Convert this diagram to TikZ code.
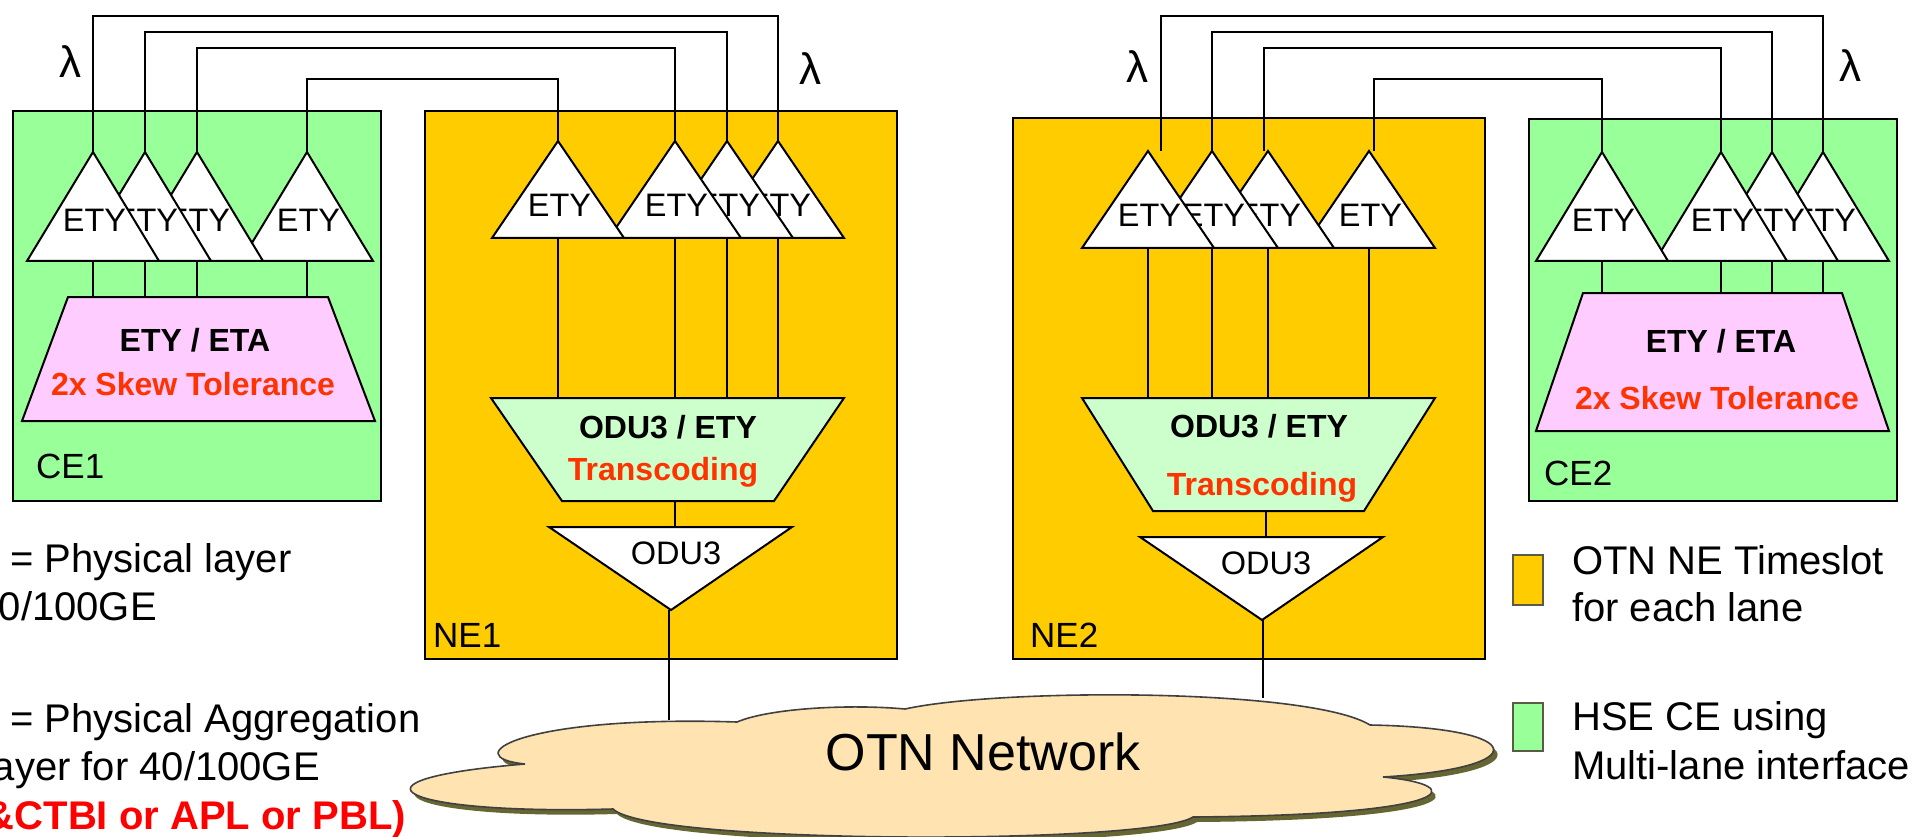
\documentclass[tikz,border=0pt]{standalone}
\usepackage{fontspec}
\setmainfont{Liberation Sans}
\definecolor{ceg}{RGB}{153,255,153}
\definecolor{neo}{RGB}{255,204,0}
\definecolor{pinkc}{RGB}{255,204,255}
\definecolor{ltg}{RGB}{204,255,204}
\definecolor{redo}{RGB}{255,51,0}
\definecolor{cloudc}{RGB}{255,228,178}
\definecolor{shad}{RGB}{102,102,51}
\definecolor{legline}{RGB}{90,90,70}
\tikzset{
  boxline/.style={draw=black, line width=2pt},
  wire/.style={draw=black, line width=2pt},
  tri/.style={draw=black, fill=white, line width=2pt, line join=miter},
  trapz/.style={draw=black, line width=2pt},
  lbl/.style={inner sep=0pt, anchor=base},
  ety/.style={lbl, font=\fontsize{32.5}{38}\selectfont},
  boldtxt/.style={lbl, font=\fontsize{32}{38}\selectfont\bfseries},
  redtxt/.style={lbl, text=redo, font=\fontsize{32}{38}\selectfont\bfseries},
  boxlbl/.style={inner sep=0pt, anchor=base west, font=\fontsize{35}{42}\selectfont},
  legtxt/.style={inner sep=0pt, font=\fontsize{40}{48}\selectfont},
  lam/.style={lbl, font=\fontsize{44}{50}\selectfont},
  legbox/.style={draw=legline, line width=1.5pt}
}
\newcommand\ETYtri[5]{%
  \draw[tri] (#2-66,#4) -- (#2,#3) -- (#2+66,#4) -- cycle;
  \coordinate (#1a) at (#2,#3);
  \coordinate (#1b) at (#2,#4);
  \node[ety] (#1t) at (#2+1.5,#5) {ETY};
}
\newcommand\OTNcloudpath{(525,764) .. controls (455,757) and (520,715) .. (737,722)
  .. controls (770,708) and (850,704) .. (905,709)
  .. controls (1000,688) and (1310,688) .. (1370,725)
  .. controls (1530,728) and (1535,768) .. (1383,777)
  .. controls (1470,785) and (1460,815) .. (1193,817)
  .. controls (1150,845) and (650,845) .. (613,809)
  .. controls (400,815) and (330,780) .. (525,764) -- cycle}
\begin{document}
\begin{tikzpicture}[x=1pt,y=-1pt]
\useasboundingbox (0,0) rectangle (1915,837);
% ---------- boxes
\draw[boxline, fill=ceg] (13,111) rectangle (381,501);
\draw[boxline, fill=neo] (425,111) rectangle (897,659);
\draw[boxline, fill=neo] (1013,118) rectangle (1485,659);
\draw[boxline, fill=ceg] (1529,119) rectangle (1897,501);
\node[boxlbl] (ce1) at (36,478) {CE1};
\node[boxlbl] (ne1) at (433,647) {NE1};
\node[boxlbl] (ne2) at (1030,647) {NE2};
\node[boxlbl] (ce2) at (1544,485) {CE2};
% ---------- wire heights
\coordinate (h1) at (0,16);
\coordinate (h2) at (0,32);
\coordinate (h3) at (0,48);
\coordinate (h4) at (0,79);
% ---------- trapezoids
\draw[trapz, fill=pinkc] (68,297) -- (328,297) -- (375,421) -- (22,421) -- cycle;
\coordinate (ce1trap) at (0,297);
\node[boldtxt] (ce1tA) at (195,351) {ETY / ETA};
\node[redtxt] (ce1tB) at (193,395) {2x Skew Tolerance};

\draw[trapz, fill=ltg] (491,398) -- (844,398) -- (774,501) -- (562,501) -- cycle;
\coordinate (ne1trap) at (0,398);
\coordinate (ne1trapb) at (675,501);
\node[boldtxt] (ne1tA) at (668,438) {ODU3 / ETY};
\node[redtxt] (ne1tB) at (663,480) {Transcoding};

\draw[trapz, fill=ltg] (1082,398) -- (1435,398) -- (1364,511) -- (1153,511) -- cycle;
\coordinate (ne2trap) at (0,398);
\coordinate (ne2trapb) at (1266,511);
\node[boldtxt] (ne2tA) at (1259,437) {ODU3 / ETY};
\node[redtxt] (ne2tB) at (1262,495) {Transcoding};

\draw[trapz, fill=pinkc] (1583,293) -- (1842,293) -- (1889,431) -- (1536,431) -- cycle;
\coordinate (ce2trap) at (0,293);
\node[boldtxt] (ce2tA) at (1721,352) {ETY / ETA};
\node[redtxt] (ce2tB) at (1717,409) {2x Skew Tolerance};
% ---------- ETY triangles (drawn right to left)
\ETYtri{ce1t4}{307}{152}{261}{232}
\ETYtri{ce1t3}{197}{152}{261}{232}
\ETYtri{ce1t2}{145}{152}{261}{232}
\ETYtri{ce1t1}{93}{152}{261}{232}

\ETYtri{ne1t4}{778}{141}{238}{217}
\ETYtri{ne1t3}{727}{141}{238}{217}
\ETYtri{ne1t2}{675}{141}{238}{217}
\ETYtri{ne1t1}{558}{141}{238}{217}

\ETYtri{ne2t4}{1369}{151}{248}{227}
\ETYtri{ne2t3}{1268}{151}{248}{227}
\ETYtri{ne2t2}{1212}{151}{248}{227}
\ETYtri{ne2t1}{1148}{151}{248}{227}

\ETYtri{ce2t4}{1823}{152}{261}{232}
\ETYtri{ce2t3}{1772}{152}{261}{232}
\ETYtri{ce2t2}{1721}{152}{261}{232}
\ETYtri{ce2t1}{1602}{152}{261}{232}
% ---------- NE2 wire ends
\coordinate (ne2w1) at (1161,151);
\coordinate (ne2w2) at (1212,151);
\coordinate (ne2w3) at (1264,151);
\coordinate (ne2w4) at (1374,151);
% ---------- optical wires
\draw[wire] (ce1t1a) -- (ce1t1a |- h1) -| (ne1t4a);
\draw[wire] (ce1t2a) -- (ce1t2a |- h2) -| (ne1t3a);
\draw[wire] (ce1t3a) -- (ce1t3a |- h3) -| (ne1t2a);
\draw[wire] (ce1t4a) -- (ce1t4a |- h4) -| (ne1t1a);
\draw[wire] (ne2w1) -- (ne2w1 |- h1) -| (ce2t4a);
\draw[wire] (ne2w2) -- (ne2w2 |- h2) -| (ce2t3a);
\draw[wire] (ne2w3) -- (ne2w3 |- h3) -| (ce2t2a);
\draw[wire] (ne2w4) -- (ne2w4 |- h4) -| (ce2t1a);
% ---------- lambda labels
\node[lam] (lam1) at (70,78) {λ};
\node[lam] (lam2) at (810,85) {λ};
\node[lam] (lam3) at (1137,83) {λ};
\node[lam] (lam4) at (1850,82) {λ};
% ---------- triangle to trapezoid links
\foreach \g in {ce1t1,ce1t2,ce1t3,ce1t4}{\draw[wire] (\g b) -- (\g b |- ce1trap);}
\foreach \g in {ne1t1,ne1t2,ne1t3,ne1t4}{\draw[wire] (\g b) -- (\g b |- ne1trap);}
\foreach \g in {ne2t1,ne2t2,ne2t3,ne2t4}{\draw[wire] (\g b) -- (\g b |- ne2trap);}
\foreach \g in {ce2t1,ce2t2,ce2t3,ce2t4}{\draw[wire] (\g b) -- (\g b |- ce2trap);}
% ---------- ODU3 triangles
\draw[tri] (549,527) -- (792,527) -- (671,610) -- cycle;
\coordinate (ne1odutop) at (675,527);
\coordinate (ne1oduap) at (669,610);
\coordinate (ne1cl) at (669,720);
\node[ety] (ne1odu) at (676,564) {ODU3};
\draw[tri] (1140,537) -- (1383,537) -- (1262,620) -- cycle;
\coordinate (ne2odutop) at (1266,537);
\coordinate (ne2oduap) at (1263,620);
\coordinate (ne2cl) at (1263,698);
\node[ety] (ne2odu) at (1266,574) {ODU3};
\draw[wire] (ne1trapb) -- (ne1odutop);
\draw[wire] (ne2trapb) -- (ne2odutop);
\draw[wire, line width=1.6pt] (ne1oduap) -- (ne1cl);
\draw[wire, line width=1.6pt] (ne2oduap) -- (ne2cl);
% ---------- cloud
\fill[shad, shift={(4,5)}] \OTNcloudpath;
\draw[draw=black!75, line width=1.6pt, fill=cloudc] \OTNcloudpath;
\node[lbl, font=\fontsize{52}{60}\selectfont] (otn) at (983,770) {OTN Network};
% ---------- left legend
\node[legtxt, anchor=base west] (lg1) at (10,572) {= Physical layer};
\node[legtxt, anchor=base east] (lg2) at (157,620) {0/100GE};
\node[legtxt, anchor=base west] (lg3) at (10,732) {= Physical Aggregation};
\node[legtxt, anchor=base east] (lg4) at (320,780) {ayer for 40/100GE};
\node[legtxt, anchor=base east, text=red, font=\fontsize{40}{48}\selectfont\bfseries] (lg5) at (406,829) {\&CTBI or APL or PBL)};
% ---------- right legend
\draw[legbox, fill=neo] (1513,555) rectangle (1543,605);
\draw[legbox, fill=ceg] (1513,703) rectangle (1543,751);
\node[legtxt, anchor=base west] (rg1) at (1572,574) {OTN NE Timeslot};
\node[legtxt, anchor=base west] (rg2) at (1572,621) {for each lane};
\node[legtxt, anchor=base west] (rg3) at (1572,730) {HSE CE using};
\node[legtxt, anchor=base west] (rg4) at (1572,779) {Multi-lane interface};
\end{tikzpicture}
\end{document}
